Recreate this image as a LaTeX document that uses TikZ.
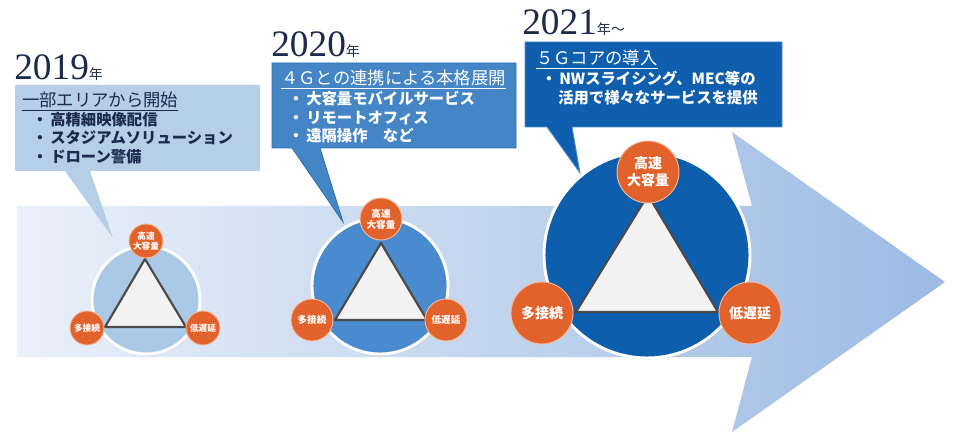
\documentclass[tikz,border=0pt]{standalone}
\usepackage{fontspec}
\newfontfamily\jp{Noto Sans CJK JP}
\newfontfamily\yr{Liberation Serif}
\usetikzlibrary{shadows}
\definecolor{navy}{HTML}{1B2A4E}
\definecolor{bandL}{HTML}{EAF0F9}
\definecolor{bandR}{HTML}{9CBBE3}
\definecolor{boxA}{HTML}{B5CFE8}
\definecolor{boxB}{HTML}{4485C6}
\definecolor{boxBline}{HTML}{2E6EB2}
\definecolor{boxC}{HTML}{0F5FAE}
\definecolor{boxCline}{HTML}{4B8ED0}
\definecolor{cirA}{HTML}{AAC9E6}
\definecolor{cirB}{HTML}{4A8ACE}
\definecolor{cirC}{HTML}{0D5FAE}
\definecolor{orng}{HTML}{E2622B}
\definecolor{orngrim}{HTML}{F5B89A}
\definecolor{triline}{HTML}{4A4A4A}
\definecolor{trifill}{HTML}{F2F2F2}
\tikzset{
  ring/.style={draw=white, line width=2.2pt, drop shadow={opacity=0.18, shadow xshift=0.8pt, shadow yshift=-1.2pt}},
  tri/.style={draw=triline, fill=trifill, line width=1.6pt, line join=round},
  orb/.style={circle, fill=orng, draw=orngrim, line width=0.7pt, text=white, inner sep=0pt, align=center, font=\jp\bfseries},
  yeartxt/.style={anchor=base west, inner sep=0pt, text=navy},
  ttl/.style={anchor=base west, inner sep=0pt, font=\jp\fontsize{13}{15}\selectfont},
  itm/.style={anchor=base west, inner sep=0pt, font=\jp\bfseries\fontsize{11.5}{14}\selectfont}
}
\begin{document}
\begin{tikzpicture}[x=0.75pt,y=-0.75pt]
\useasboundingbox (0,0) rectangle (960,438);
\fill[white] (0,0) rectangle (960,438);

% timeline arrow
\path[left color=bandL, right color=bandR]
  (17,206) -- (752,206) -- (732,132) -- (945,282) -- (732,432) -- (752,357) -- (17,357) -- cycle;

% callouts
\fill[boxA] (15,85) -- (260,85) -- (260,171) -- (90,171) -- (113,238) -- (65,171) -- (15,171) -- cycle;
\filldraw[fill=boxB, draw=boxBline, line width=0.6pt] (272,63) -- (516,63) -- (516,148) -- (320,148) -- (343,222) -- (292,148) -- (272,148) -- cycle;
\filldraw[fill=boxC, draw=boxCline, line width=0.6pt] (525,42) -- (782,42) -- (782,127) -- (572,127) -- (580,173) -- (547,127) -- (525,127) -- cycle;

% years
\node[yeartxt] (y1) at (14,80) {{\yr\fontsize{28}{30}\selectfont 2019}{\jp\fontsize{10.5}{12}\selectfont 年}};
\node[yeartxt] (y2) at (271,57) {{\yr\fontsize{28}{30}\selectfont 2020}{\jp\fontsize{10.5}{12}\selectfont 年}};
\node[yeartxt] (y3) at (522,35) {{\yr\fontsize{28}{30}\selectfont 2021}{\jp\fontsize{10.5}{12}\selectfont 年～}};

% box 1 text
\node[ttl, text=navy] (t1) at (22,107) {\underline{一部エリアから開始}};
\node[itm, text=navy] (b1a) at (32,126) {・\hspace{2pt}高精細映像配信};
\node[itm, text=navy] (b1b) at (32,144) {・\hspace{2pt}スタジアムソリューション};
\node[itm, text=navy] (b1c) at (32,163) {・\hspace{2pt}ドローン警備};

% box 2 text
\node[ttl, text=white] (t2) at (281,85) {\underline{４Ｇとの連携による本格展開}};
\node[itm, text=white] (b2a) at (288,105) {・\hspace{2pt}大容量モバイルサービス};
\node[itm, text=white] (b2b) at (288,124) {・\hspace{2pt}リモートオフィス};
\node[itm, text=white] (b2c) at (288,142) {・\hspace{2pt}遠隔操作　など};

% box 3 text
\node[ttl, text=white] (t3) at (536,65) {\underline{５Ｇコアの導入}};
\node[itm, text=white] (b3a) at (541,85) {・\hspace{2pt}NWスライシング、MEC等の};
\node[itm, text=white] (b3b) at (558,104) {活用で様々なサービスを提供};

% circle 1
\fill[cirA, ring] (146,300) circle[radius=54];
\draw[tri] (145,259) -- (105,327) -- (186,327) -- cycle;
\node[orb, minimum size=25.5pt, font=\jp\bfseries\fontsize{6.5}{7.5}\selectfont] (o1t) at (146,241) {高速\\大容量};
\node[orb, minimum size=25.5pt, font=\jp\bfseries\fontsize{6.5}{7.5}\selectfont] (o1l) at (87,328) {多接続};
\node[orb, minimum size=25.5pt, font=\jp\bfseries\fontsize{6.5}{7.5}\selectfont] (o1r) at (203,328) {低遅延};

% circle 2
\fill[cirB, ring] (380,286) circle[radius=68];
\draw[tri] (381,243) -- (335,320) -- (427,320) -- cycle;
\node[orb, minimum size=31.5pt, font=\jp\bfseries\fontsize{7.2}{8.4}\selectfont] (o2t) at (381,219) {高速\\大容量};
\node[orb, minimum size=31.5pt, font=\jp\bfseries\fontsize{7.2}{8.4}\selectfont] (o2l) at (312,320) {多接続};
\node[orb, minimum size=31.5pt, font=\jp\bfseries\fontsize{7.2}{8.4}\selectfont] (o2r) at (446,320) {低遅延};

% circle 3
\fill[cirC, ring] (647,255) circle[radius=103];
\draw[tri] (648,195) -- (576,312) -- (718,312) -- cycle;
\node[orb, minimum size=46.5pt, font=\jp\bfseries\fontsize{10.5}{12.5}\selectfont] (o3t) at (648,172) {高速\\大容量};
\node[orb, minimum size=46.5pt, font=\jp\bfseries\fontsize{10.5}{12.5}\selectfont] (o3l) at (542,313) {多接続};
\node[orb, minimum size=46.5pt, font=\jp\bfseries\fontsize{10.5}{12.5}\selectfont] (o3r) at (750,313) {低遅延};
\end{tikzpicture}
\end{document}
